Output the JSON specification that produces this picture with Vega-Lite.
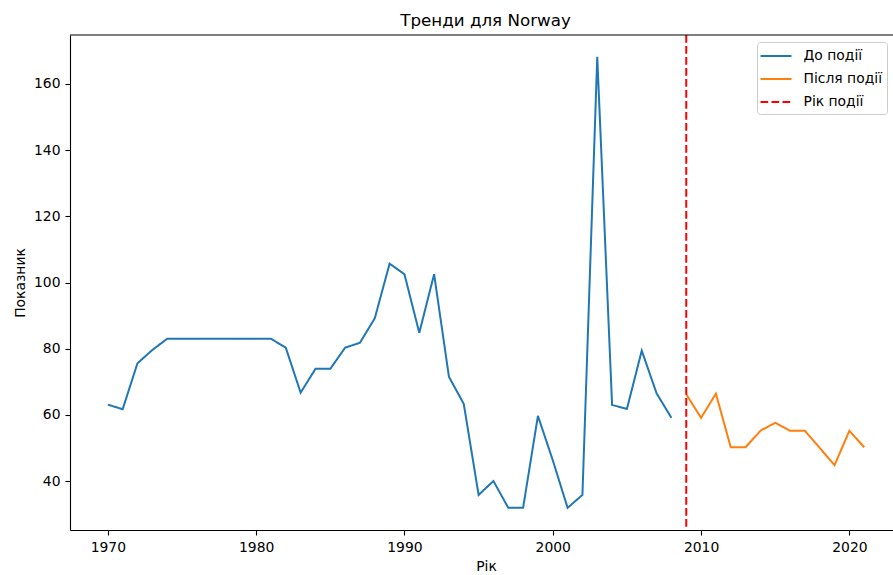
{
  "$schema": "https://vega.github.io/schema/vega-lite/v6.json",
  "width": 823,
  "height": 495,
  "autosize": {"type": "none"},
  "padding": {"left": 70, "top": 35, "right": 0, "bottom": 45},
  "title": {"text": "Тренди для Norway", "fontSize": 16.7, "fontWeight": "normal", "font": "DejaVu Sans", "color": "#000000", "baseline": "alphabetic", "offset": -9, "dx": 4},
  "config": {
    "view": {"stroke": null},
    "font": "DejaVu Sans",
    "axis": {"labelFont": "DejaVu Sans", "titleFont": "DejaVu Sans", "labelFontSize": 13.9, "titleFontSize": 13.9, "titleFontWeight": "normal", "labelColor": "#000000", "titleColor": "#000000", "tickColor": "#000000", "domainColor": "#000000", "domainWidth": 1.1, "tickWidth": 1.1, "tickSize": 5, "labelPadding": 5, "titlePadding": 6, "grid": false},
    "legend": {"orient": "none", "legendX": 687, "legendY": 7, "fillColor": "#ffffff", "strokeColor": "#cccccc", "cornerRadius": 3, "padding": 5, "labelFont": "DejaVu Sans", "labelFontSize": 13.9, "labelColor": "#000000", "symbolType": "M-2,0H2", "symbolSize": 240, "symbolStrokeWidth": 2, "symbolOffset": 5, "labelOffset": 18.5, "rowPadding": 7}
  },
  "layer": [
    {
      "data": {"values": [
        {"year": 1970, "value": 63.1, "series": "До події"},
        {"year": 1971, "value": 61.7, "series": "До події"},
        {"year": 1972, "value": 75.6, "series": "До події"},
        {"year": 1973, "value": 79.6, "series": "До події"},
        {"year": 1974, "value": 83.0, "series": "До події"},
        {"year": 1975, "value": 83.0, "series": "До події"},
        {"year": 1976, "value": 83.0, "series": "До події"},
        {"year": 1977, "value": 83.0, "series": "До події"},
        {"year": 1978, "value": 83.0, "series": "До події"},
        {"year": 1979, "value": 83.0, "series": "До події"},
        {"year": 1980, "value": 83.0, "series": "До події"},
        {"year": 1981, "value": 83.0, "series": "До події"},
        {"year": 1982, "value": 80.3, "series": "До події"},
        {"year": 1983, "value": 66.7, "series": "До події"},
        {"year": 1984, "value": 73.9, "series": "До події"},
        {"year": 1985, "value": 73.9, "series": "До події"},
        {"year": 1986, "value": 80.3, "series": "До події"},
        {"year": 1987, "value": 81.8, "series": "До події"},
        {"year": 1988, "value": 89.2, "series": "До події"},
        {"year": 1989, "value": 105.7, "series": "До події"},
        {"year": 1990, "value": 102.5, "series": "До події"},
        {"year": 1991, "value": 84.8, "series": "До події"},
        {"year": 1992, "value": 102.5, "series": "До події"},
        {"year": 1993, "value": 71.5, "series": "До події"},
        {"year": 1994, "value": 63.3, "series": "До події"},
        {"year": 1995, "value": 35.8, "series": "До події"},
        {"year": 1996, "value": 40.0, "series": "До події"},
        {"year": 1997, "value": 31.9, "series": "До події"},
        {"year": 1998, "value": 31.9, "series": "До події"},
        {"year": 1999, "value": 59.7, "series": "До події"},
        {"year": 2000, "value": 46.3, "series": "До події"},
        {"year": 2001, "value": 31.9, "series": "До події"},
        {"year": 2002, "value": 35.8, "series": "До події"},
        {"year": 2003, "value": 168.2, "series": "До події"},
        {"year": 2004, "value": 63.0, "series": "До події"},
        {"year": 2005, "value": 61.8, "series": "До події"},
        {"year": 2006, "value": 79.4, "series": "До події"},
        {"year": 2007, "value": 66.5, "series": "До події"},
        {"year": 2008, "value": 59.1, "series": "До події"},
        {"year": 2009, "value": 66.2, "series": "Після події"},
        {"year": 2010, "value": 59.1, "series": "Після події"},
        {"year": 2011, "value": 66.4, "series": "Після події"},
        {"year": 2012, "value": 50.2, "series": "Після події"},
        {"year": 2013, "value": 50.2, "series": "Після події"},
        {"year": 2014, "value": 55.2, "series": "Після події"},
        {"year": 2015, "value": 57.6, "series": "Після події"},
        {"year": 2016, "value": 55.2, "series": "Після події"},
        {"year": 2017, "value": 55.2, "series": "Після події"},
        {"year": 2018, "value": 50.0, "series": "Після події"},
        {"year": 2019, "value": 44.8, "series": "Після події"},
        {"year": 2020, "value": 55.2, "series": "Після події"},
        {"year": 2021, "value": 50.2, "series": "Після події"}
      ]},
      "mark": {"type": "line", "strokeWidth": 2, "clip": true},
      "encoding": {
        "x": {"field": "year", "type": "quantitative", "title": "Рік",
              "scale": {"domain": [1967.45, 2022.94], "nice": false, "zero": false},
              "axis": {"values": [1970, 1980, 1990, 2000, 2010, 2020], "format": "d", "titleX": 416}},
        "y": {"field": "value", "type": "quantitative", "title": "Показник",
              "scale": {"domain": [25.2, 174.8], "nice": false, "zero": false},
              "axis": {"values": [40, 60, 80, 100, 120, 140, 160], "format": "d"}},
        "color": {"field": "series", "type": "nominal", "title": null,
                  "scale": {"domain": ["До події", "Після події", "Рік події"], "range": ["#1f77b4", "#ff7f0e", "#ff0000"]}},
        "strokeDash": {"field": "series", "type": "nominal", "title": null,
                  "scale": {"domain": ["До події", "Після події", "Рік події"], "range": [[1, 0], [1, 0], [7.7, 3.3]]}}
      }
    },
    {
      "data": {"values": [{"year": 2009, "series": "Рік події"}]},
      "mark": {"type": "rule", "strokeWidth": 2},
      "encoding": {
        "x": {"field": "year", "type": "quantitative"},
        "color": {"field": "series", "type": "nominal", "title": null},
        "strokeDash": {"field": "series", "type": "nominal", "title": null}
      }
    },
    {
      "data": {"values": [{"edge": "top"}]},
      "mark": {"type": "rule", "color": "#000000", "strokeWidth": 1.1},
      "encoding": {"y": {"datum": 174.8}}
    }
  ],
  "resolve": {"legend": {"color": "shared", "strokeDash": "shared"}},
  "encoding": {}
}
